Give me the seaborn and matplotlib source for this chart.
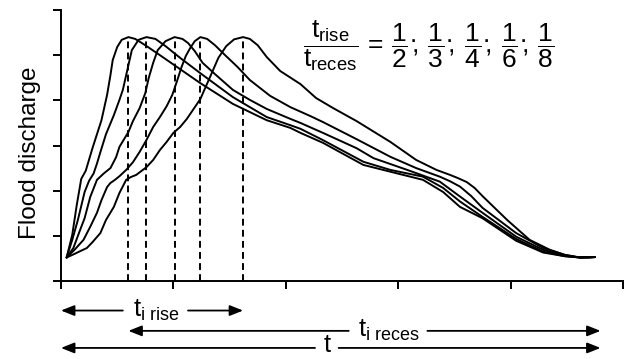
import matplotlib
matplotlib.use("Agg")
import matplotlib.pyplot as plt
import pandas as pd
import seaborn as sns

# ---- data (time and discharge in tick units; axes carry no numeric labels) ----
ratio_labels = ["1/8", "1/6", "1/4", "1/3", "1/2"]

t_18 = [0.05, 0.10, 0.14, 0.18, 0.22, 0.28, 0.36, 0.41, 0.44, 0.46, 0.50, 0.54, 0.60, 0.66, 0.75,
        0.88, 1.06, 1.24, 1.53, 1.83, 2.04, 2.13, 2.33, 2.69, 2.93, 3.22, 3.40, 3.55, 3.75, 4.05,
        4.29, 4.48, 4.62, 4.75]
q_18 = [0.52, 1.02, 1.68, 2.26, 2.44, 2.94, 3.56, 4.12, 4.56, 4.89, 5.18, 5.34, 5.40, 5.36, 5.22,
        5.00, 4.69, 4.38, 3.92, 3.56, 3.39, 3.28, 3.06, 2.57, 2.42, 2.24, 1.97, 1.64, 1.39, 0.89,
        0.63, 0.55, 0.52, 0.53]

t_16 = [0.05, 0.10, 0.15, 0.21, 0.25, 0.29, 0.32, 0.35, 0.40, 0.47, 0.52, 0.55, 0.59, 0.63, 0.69,
        0.76, 0.84, 0.93, 1.06, 1.24, 1.53, 1.83, 2.04, 2.13, 2.33, 2.69, 2.93, 3.22, 3.40, 3.55,
        3.75, 4.05, 4.29, 4.48, 4.62, 4.75]
q_16 = [0.52, 0.91, 1.35, 1.97, 2.22, 2.38, 2.60, 2.85, 3.25, 3.67, 4.01, 4.23, 4.67, 5.11, 5.34,
        5.40, 5.36, 5.20, 4.94, 4.60, 4.07, 3.63, 3.45, 3.37, 3.12, 2.64, 2.46, 2.31, 2.06, 1.76,
        1.42, 0.93, 0.65, 0.55, 0.52, 0.53]

t_14 = [0.05, 0.11, 0.17, 0.21, 0.26, 0.32, 0.38, 0.44, 0.49, 0.52, 0.60, 0.64, 0.70, 0.75, 0.78,
        0.82, 0.86, 0.93, 1.01, 1.08, 1.13, 1.19, 1.26, 1.37, 1.53, 1.68, 1.83, 2.04, 2.13, 2.33,
        2.63, 2.78, 3.08, 3.37, 3.55, 3.75, 4.05, 4.29, 4.48, 4.62, 4.75]
q_14 = [0.52, 0.73, 1.13, 1.39, 1.86, 2.24, 2.38, 2.50, 2.74, 2.97, 3.30, 3.54, 3.83, 4.16, 4.49,
        4.83, 5.11, 5.31, 5.40, 5.36, 5.27, 5.09, 4.83, 4.58, 4.23, 4.01, 3.81, 3.59, 3.50, 3.28,
        2.94, 2.72, 2.46, 2.20, 1.87, 1.51, 0.98, 0.69, 0.56, 0.52, 0.53]

t_13 = [0.05, 0.12, 0.20, 0.26, 0.32, 0.36, 0.41, 0.44, 0.48, 0.52, 0.58, 0.64, 0.70, 0.76, 0.82,
        0.88, 0.94, 0.99, 1.03, 1.07, 1.11, 1.15, 1.19, 1.24, 1.30, 1.37, 1.46, 1.57, 1.68, 1.86,
        2.04, 2.22, 2.33, 2.63, 2.93, 3.16, 3.37, 3.46, 3.55, 3.65, 3.75, 4.05, 4.29, 4.48, 4.62,
        4.75]
q_13 = [0.52, 0.69, 0.91, 1.20, 1.51, 1.79, 2.08, 2.17, 2.24, 2.32, 2.46, 2.63, 2.86, 3.12, 3.41,
        3.63, 3.87, 4.12, 4.41, 4.72, 4.98, 5.16, 5.31, 5.40, 5.36, 5.22, 5.00, 4.74, 4.45, 4.10,
        3.85, 3.65, 3.52, 3.14, 2.75, 2.50, 2.31, 2.21, 2.09, 1.88, 1.62, 1.06, 0.73, 0.58, 0.52,
        0.53]

t_12 = [0.05, 0.12, 0.17, 0.23, 0.28, 0.35, 0.40, 0.47, 0.52, 0.58, 0.62, 0.67, 0.76, 0.82, 0.88,
        0.94, 1.00, 1.06, 1.12, 1.24, 1.33, 1.40, 1.47, 1.54, 1.62, 1.68, 1.75, 1.83, 1.95, 2.13,
        2.27, 2.42, 2.63, 2.93, 3.16, 3.34, 3.46, 3.53, 3.61, 3.68, 3.75, 3.97, 4.17, 4.35, 4.48,
        4.59, 4.69, 4.75]
q_12 = [0.52, 0.60, 0.66, 0.73, 0.86, 1.06, 1.35, 1.64, 1.95, 2.24, 2.30, 2.35, 2.52, 2.68, 2.90,
        3.08, 3.28, 3.41, 3.59, 4.03, 4.54, 4.94, 5.20, 5.35, 5.40, 5.36, 5.22, 4.96, 4.65, 4.36,
        4.05, 3.83, 3.54, 3.08, 2.68, 2.46, 2.35, 2.28, 2.19, 2.06, 1.88, 1.35, 0.91, 0.69, 0.58,
        0.53, 0.52, 0.53]

peak_t = [0.60, 0.76, 1.01, 1.24, 1.62]
peak_q = 5.40
flow_end_t = 4.80

x_ticks = [0, 1, 2, 3, 4, 5]
y_ticks = [0, 1, 2, 3, 4, 5, 6]

y_label = "Flood discharge"
sep = r"\genfrac{}{}{0}{0}{.}{,}\,"
formula = (r"$\dfrac{\mathrm{t}_{\mathrm{rise}}}{\mathrm{t}_{\mathrm{reces}}}\,=\,"
           r"\dfrac{1}{2}" + sep + r"\dfrac{1}{3}" + sep + r"\dfrac{1}{4}" + sep +
           r"\dfrac{1}{6}" + sep + r"\dfrac{1}{8}$")
arrow_labels = [r"$\mathrm{t}_{\mathrm{i\ rise}}$", r"$\mathrm{t}_{\mathrm{i\ reces}}$", r"$\mathrm{t}$"]
arrow_start = [0.0, peak_t[0], 0.0]
arrow_end = [peak_t[-1], flow_end_t, flow_end_t]
label_t = [0.845, 2.92, 2.375]
gap_left = [0.55, 2.56, 2.26]
gap_right = [1.13, 3.26, 2.47]
arrow_level = [-0.109, -0.184, -0.247]
label_level = [-0.109, -0.184, -0.236]

# ---- style ----
sns.set_style("ticks", rc={"axes.edgecolor": "black", "xtick.color": "black",
                           "ytick.color": "black", "text.color": "black",
                           "axes.labelcolor": "black"})
plt.rcParams["font.family"] = ["Liberation Sans", "DejaVu Sans"]
plt.rcParams["mathtext.fontset"] = "custom"
plt.rcParams["mathtext.rm"] = "Liberation Sans"
plt.rcParams["mathtext.it"] = "Liberation Sans:italic"
plt.rcParams["mathtext.bf"] = "Liberation Sans:bold"

frames = []
for name, t, q in zip(ratio_labels, [t_18, t_16, t_14, t_13, t_12], [q_18, q_16, q_14, q_13, q_12]):
    frames.append(pd.DataFrame({"time": t, "discharge": q, "ratio": name}))
df = pd.concat(frames, ignore_index=True)

fig = plt.figure(figsize=(6.27, 3.59), dpi=100)
ax = fig.add_axes([61 / 627, 78 / 359, 562 / 627, 271 / 359])

sns.lineplot(data=df, x="time", y="discharge", units="ratio", estimator=None, sort=False,
             color="black", lw=1.4, legend=False, ax=ax)
ax.vlines(peak_t, 0, peak_q, colors="black", linestyles=(0, (3.5, 2.2)), lw=1.4)

ax.set_xlim(0, 5)
ax.set_ylim(0, 6)
ax.set_xticks(x_ticks)
ax.set_yticks(y_ticks)
ax.set_xticklabels([])
ax.set_yticklabels([])
ax.tick_params(direction="out", length=5.5, width=1.4)
for s in ["left", "bottom"]:
    ax.spines[s].set_linewidth(1.4)
sns.despine(ax=ax)
ax.set_xlabel("")
ax.set_ylabel(y_label, fontsize=17.5)
ax.yaxis.set_label_coords(-0.036, 0.474)

fig.text(303 / 627, 1 - 46 / 359, formula, ha="left", va="center", fontsize=19)

trans = ax.get_xaxis_transform()
aprops = dict(arrowstyle="-|>,head_length=0.5,head_width=0.2", color="black", lw=1.3,
              mutation_scale=16, shrinkA=0, shrinkB=0)
for lab, s, e, lt, gl, gr, lv, tv in zip(arrow_labels, arrow_start, arrow_end, label_t,
                                         gap_left, gap_right, arrow_level, label_level):
    ax.annotate("", xy=(s, lv), xytext=(gl, lv), xycoords=trans, textcoords=trans,
                arrowprops=aprops, annotation_clip=False)
    ax.annotate("", xy=(e, lv), xytext=(gr, lv), xycoords=trans, textcoords=trans,
                arrowprops=aprops, annotation_clip=False)
    ax.text(lt, tv, lab, transform=trans, ha="center", va="center", fontsize=18.5)

fig.savefig("out.png", dpi=100)
